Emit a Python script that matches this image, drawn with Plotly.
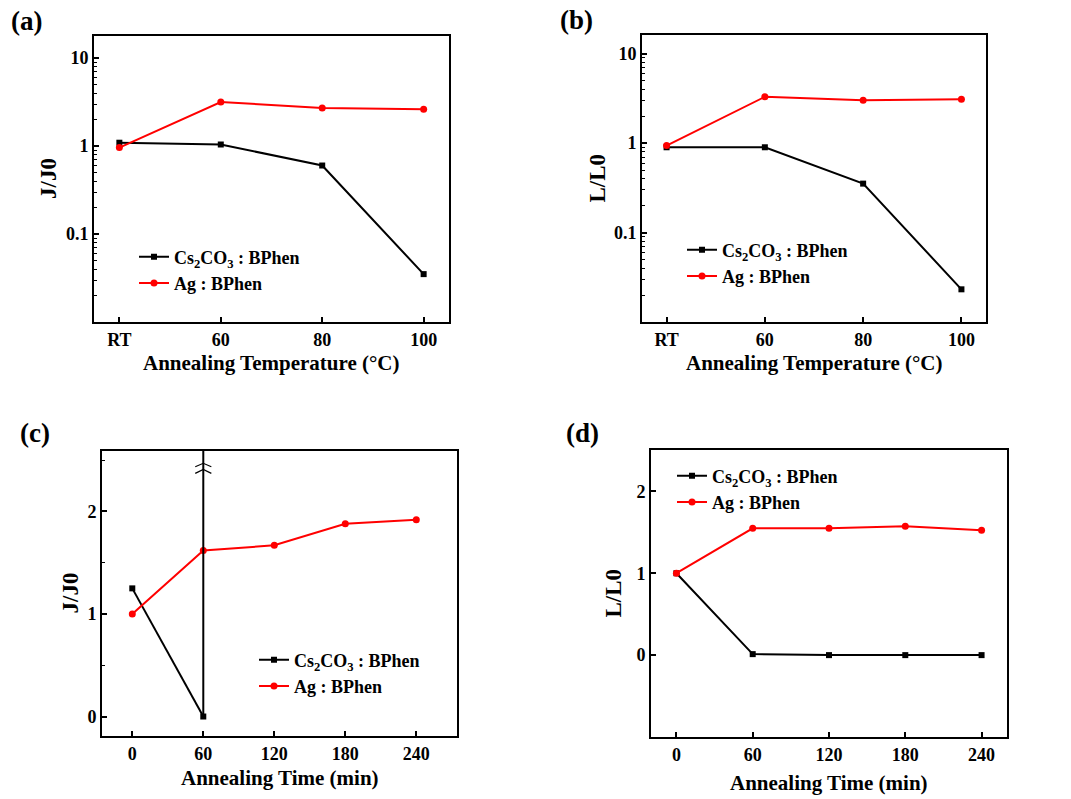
import plotly.graph_objects as go

W, H = 1071, 799

# ---------------- data ----------------
temp_labels = ["RT", "60", "80", "100"]
temp_idx = [0, 1, 2, 3]

a_cs = [1.09, 1.04, 0.60, 0.035]
a_ag = [0.96, 3.16, 2.70, 2.61]

b_cs = [0.90, 0.90, 0.353, 0.0232]
b_ag = [0.94, 3.30, 3.03, 3.11]

time_min = [0, 60, 120, 180, 240]
c_cs_x = [0, 60]
c_cs = [1.25, 0.0]
c_ag = [1.0, 1.62, 1.67, 1.88, 1.92]

d_cs = [1.0, 0.012, 0.0, 0.0, 0.0]
d_ag = [1.0, 1.549, 1.549, 1.573, 1.524]

NAME_CS = "Cs<sub>2</sub>CO<sub>3</sub> : BPhen"
NAME_AG = "Ag : BPhen"

FONT = "Liberation Serif"
BLACK = "#000000"
RED = "#ff0000"


def px_x(p):
    return p / W


def px_y(p):
    return 1 - p / H


fig = go.Figure()

# panel boxes in pixels: (left, right, top, bottom)
boxes = {
    "a": (94, 449, 36, 322),
    "b": (642, 986, 35, 322),
    "c": (102, 457, 451, 736),
    "d": (651, 1007, 450, 737),
}
axis_ids = {"a": ("x", "y"), "b": ("x2", "y2"), "c": ("x3", "y3"), "d": ("x4", "y4")}
legend_ids = {"a": "legend", "b": "legend2", "c": "legend3", "d": "legend4"}


def add_pair(panel, x, ycs, yag, xcs=None):
    xa, ya = axis_ids[panel]
    lg = legend_ids[panel]
    fig.add_trace(go.Scatter(
        x=xcs if xcs is not None else x, y=ycs, name=NAME_CS, mode="lines+markers",
        line=dict(color=BLACK, width=2), marker=dict(symbol="square", size=6, color=BLACK),
        xaxis=xa, yaxis=ya, legend=lg, cliponaxis=False))
    fig.add_trace(go.Scatter(
        x=x, y=yag, name=NAME_AG, mode="lines+markers",
        line=dict(color=RED, width=2), marker=dict(symbol="circle", size=7, color=RED),
        xaxis=xa, yaxis=ya, legend=lg, cliponaxis=False))


add_pair("a", temp_idx, a_cs, a_ag)
add_pair("b", temp_idx, b_cs, b_ag)
add_pair("c", time_min, c_cs, c_ag, xcs=c_cs_x)
add_pair("d", time_min, d_cs, d_ag)

tickfont = dict(family=FONT, size=18, color=BLACK, weight="bold")
common_axis = dict(showline=True, linecolor=BLACK, linewidth=2, mirror=True,
                   ticks="inside", ticklen=5, tickwidth=1.5, tickcolor=BLACK,
                   showgrid=False, zeroline=False, tickfont=tickfont)

layout = dict(width=W, height=H, margin=dict(l=0, r=0, t=0, b=0),
              paper_bgcolor="white", plot_bgcolor="white", showlegend=True,
              font=dict(family=FONT, color=BLACK))

xr = {"a": [-0.25, 3.25], "b": [-0.25, 3.25], "c": [-25.6, 274.4], "d": [-20, 260]}
yr = {"a": [-2.0, 1.25], "b": [-2.0, 1.21], "c": [-0.19, 2.59], "d": [-1.0, 2.505]}

for i, p in enumerate(["a", "b", "c", "d"]):
    l, r, t, b = boxes[p]
    sfx = "" if i == 0 else str(i + 1)
    if p in ("a", "b"):
        xvals, xtext = temp_idx, temp_labels
    else:
        xvals, xtext = time_min, [str(v) for v in time_min]
    # x axis: labels sit close to the axis line; inside tick marks drawn as minor ticks
    xd = dict(common_axis, domain=[px_x(l), px_x(r)], range=xr[p], anchor="y" + sfx,
              ticks="outside", ticklen=0, tickmode="array", tickvals=xvals, ticktext=xtext,
              minor=dict(ticks="inside", ticklen=5, tickwidth=1.5, tickcolor=BLACK,
                         tickvals=xvals))
    yd = dict(common_axis, domain=[px_y(b), px_y(t)], range=yr[p], anchor="x" + sfx)
    if p in ("a", "b"):
        yd.update(type="log", tickmode="array", tickvals=[0.1, 1, 10], ticktext=["0.1", "1", "10"],
                  minor=dict(ticks="inside", ticklen=3, tickcolor=BLACK, tickwidth=1,
                             tickvals=[m * 10 ** e for e in (-2, -1, 0, 1) for m in range(2, 10)]))
    else:
        yd.update(tickmode="array", tickvals=[0, 1, 2], ticktext=["0", "1", "2"])
        if p == "c":
            yd.update(minor=dict(ticks="inside", ticklen=3, tickcolor=BLACK, tickwidth=1,
                                 tickvals=[0.5, 1.5, 2.5]))
    layout["xaxis" + sfx] = xd
    layout["yaxis" + sfx] = yd

# legends (positions in pixels -> paper)
legend_pos = {"a": (134, 270), "b": (682, 263), "c": (254, 673), "d": (672, 489)}
for p, (lx, ly) in legend_pos.items():
    layout[legend_ids[p]] = dict(x=px_x(lx), y=px_y(ly), xref="paper", yref="paper",
                                 xanchor="left", yanchor="middle", bgcolor="rgba(0,0,0,0)",
                                 borderwidth=0, tracegroupgap=0,
                                 font=dict(family=FONT, size=18, color=BLACK, weight="bold"))

fig.update_layout(**layout)

# axis titles and panel labels
titles = {
    "a": ("Annealing Temperature (\u00b0C)", "J/J0", (48, 363)),
    "b": ("Annealing Temperature (\u00b0C)", "L/L0", (597, 363)),
    "c": ("Annealing Time (min)", "J/J0", (70, 778)),
    "d": ("Annealing Time (min)", "L/L0", (613, 783)),
}
xtitle_font = dict(family=FONT, size=21, color=BLACK, weight="bold")
ytitle_font = dict(family=FONT, size=23, color=BLACK, weight="bold")
for p, (xt, yt, (ytx, xty)) in titles.items():
    l, r, t, b = boxes[p]
    fig.add_annotation(text=xt, x=px_x((l + r) / 2), y=px_y(xty), xref="paper", yref="paper",
                       xanchor="center", yanchor="middle", showarrow=False, font=xtitle_font)
    fig.add_annotation(text=yt, x=px_x(ytx), y=px_y((t + b) / 2), xref="paper", yref="paper",
                       xanchor="center", yanchor="middle", showarrow=False, textangle=-90,
                       font=ytitle_font)

panel_labels = {"a": (26, 21), "b": (576, 20), "c": (35, 433), "d": (582, 433)}
for p, (cx, cy) in panel_labels.items():
    fig.add_annotation(text="(" + p + ")", x=px_x(cx), y=px_y(cy), xref="paper", yref="paper",
                       xanchor="center", yanchor="middle", showarrow=False,
                       font=dict(family=FONT, size=27, color=BLACK, weight="bold"))

# panel (c): vertical break line at 60 min and break chevrons
break_x = 60
fig.add_shape(type="line", xref="x3", yref="y3 domain", x0=break_x, x1=break_x,
              y0=0.068, y1=1, line=dict(color=BLACK, width=2))
for apex, arm in [(2.47, 2.437), (2.41, 2.372)]:
    fig.add_shape(type="path", xref="x3", yref="y3",
                  path=f"M {break_x - 6.8},{arm} L {break_x},{apex} L {break_x + 6.8},{arm}",
                  line=dict(color=BLACK, width=1.2))

fig.write_html("out.html")
